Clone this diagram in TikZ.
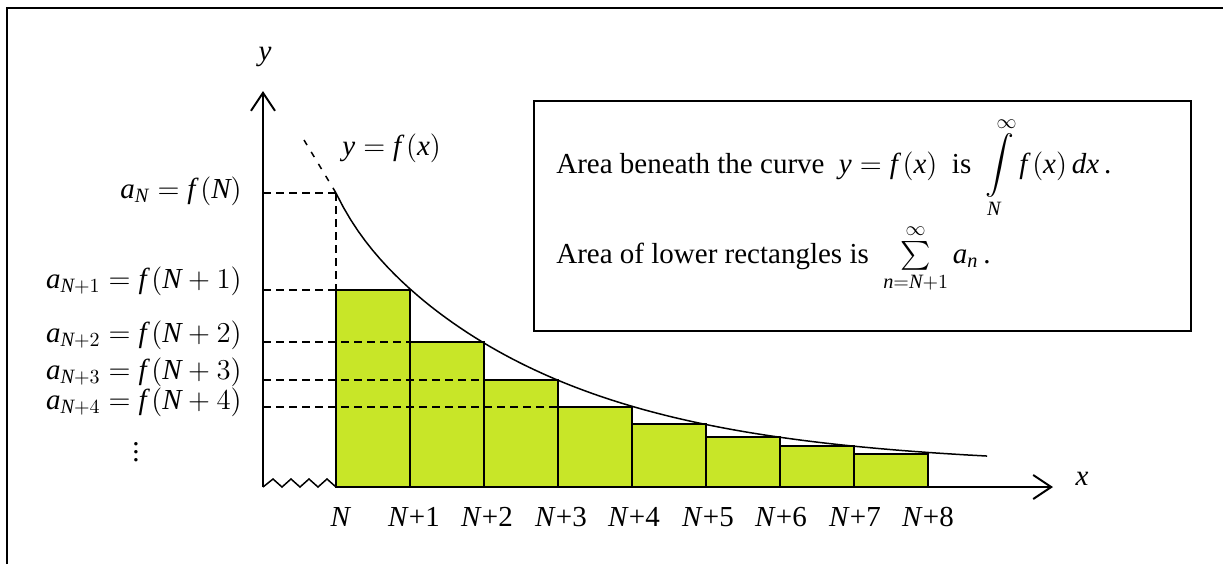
\documentclass[tikz,border=0pt]{standalone}
\usepackage{amsmath}
\usepackage{fontspec}
\setmainfont{Liberation Serif}
\usepackage{xcolor}
\usepackage{tikz}
\usetikzlibrary{arrows.meta,positioning}
\definecolor{barfill}{RGB}{200,230,40}
\newcommand{\mi}[1]{\mathit{#1}}

\begin{document}
\begin{tikzpicture}[x=0.5pt,y=-0.5pt,>={Straight Barb[length=9pt,width=12pt]}, every node/.style={font=\fontsize{14.5}{17}\selectfont, inner sep=0pt}]
\tikzstyle{bar}=[draw, line width=1pt, fill=barfill]
\tikzstyle{guide}=[line width=0.75pt, dash pattern=on 4pt off 2.5pt]
\tikzstyle{axis}=[->, line width=1pt]
\tikzstyle{tick}=[anchor=center]
\useasboundingbox (0,0) rectangle (1223,564);
% outer frame, open at the bottom and the right
\draw[line width=1.2pt] (7,564) -- (7,8) -- (1223,8);

% lower rectangles
\filldraw[bar] (336,487) rectangle (410,290);
\filldraw[bar] (410,487) rectangle (484,342);
\filldraw[bar] (484,487) rectangle (558,380);
\filldraw[bar] (558,487) rectangle (632,407);
\filldraw[bar] (632,487) rectangle (706,424);
\filldraw[bar] (706,487) rectangle (780,437);
\filldraw[bar] (780,487) rectangle (854,446);
\filldraw[bar] (854,487) rectangle (928,454);

% axes
\coordinate (O) at (263,487);
\coordinate (xN) at (336,487);
\coordinate (ytop) at (263,91);
\coordinate (xend) at (1053,487);
\draw[axis] (O) -- (ytop);
\draw[axis] (xN) -- (xend);
\draw[line width=0.75pt] (O) -- (273,479) -- (282,487) -- (291,479) -- (300,487)
  -- (309,479) -- (318,487) -- (327,479) -- (xN);
\node (ylab) at (265,57) {$\mi{y}$};
\node (xlab) at (1082,479) {$\mi{x}$};

% the curve
\coordinate (fN) at (336,193);
\draw[line width=0.75pt] plot[domain=0:8.8, samples=90, variable=\k] ({336+74*\k}, {467-252.9*exp(-0.3567*\k)-21*exp(-3*\k)});
\draw[guide, dash pattern=on 3pt off 4pt] (fN) -- (304,140);
\node[anchor=west] (curve) at (342,148) {$\mi{y} = \mi{f}\,(\mi{x})$};

% values on the y axis
\draw[guide] (263,193) -- (fN);
\draw[guide] (fN) -- (336,290);
\draw[guide] (263,290) -- (336,290);
\draw[guide] (263,342) -- (484,342);
\draw[guide] (263,380) -- (558,380);
\draw[guide] (263,407) -- (632,407);
\node[anchor=east] (a0) at (242,191) {$\mi{a}_{\mi{N}} = \mi{f}\,(\mi{N})$};
\node[anchor=east] (a1) at (242,281) {$\mi{a}_{\mi{N}+1} = \mi{f}\,(\mi{N}+1)$};
\node[anchor=east] (a2) at (242,335) {$\mi{a}_{\mi{N}+2} = \mi{f}\,(\mi{N}+2)$};
\node[anchor=east] (a3) at (242,372) {$\mi{a}_{\mi{N}+3} = \mi{f}\,(\mi{N}+3)$};
\node[anchor=east] (a4) at (242,402) {$\mi{a}_{\mi{N}+4} = \mi{f}\,(\mi{N}+4)$};
\node (dots) at (136,446) {$\vdots$};

% values on the x axis
\node[tick] (n0) at (341,517) {\textit{N}};
\node[tick] (n1) at (414,517) {\textit{N}+1};
\node[tick] (n2) at (487,517) {\textit{N}+2};
\node[tick] (n3) at (561,517) {\textit{N}+3};
\node[tick] (n4) at (634,517) {\textit{N}+4};
\node[tick] (n5) at (708,517) {\textit{N}+5};
\node[tick] (n6) at (781,517) {\textit{N}+6};
\node[tick] (n7) at (855,517) {\textit{N}+7};
\node[tick] (n8) at (928,517) {\textit{N}+8};

% the box with the two areas
\node[draw, line width=1pt, anchor=north west, minimum width=328.5pt, minimum height=115pt] (info) at (533,100) {};
\node[anchor=base west] (area1) at (556,173) {Area beneath the curve \ $\mi{y} = \mi{f}\,(\mi{x})$ \ is \
  $\displaystyle\int\limits_{\mi{N}}^{\infty} \mi{f}\,(\mi{x})\,\mi{dx}$\,.};
\node[anchor=base west] (area2) at (556,263) {Area of lower rectangles is \
  $\sum\limits_{\mi{n}=\mi{N}+1}^{\infty}\mi{a}_{\mi{n}}$\,.};
\end{tikzpicture}
\end{document}
